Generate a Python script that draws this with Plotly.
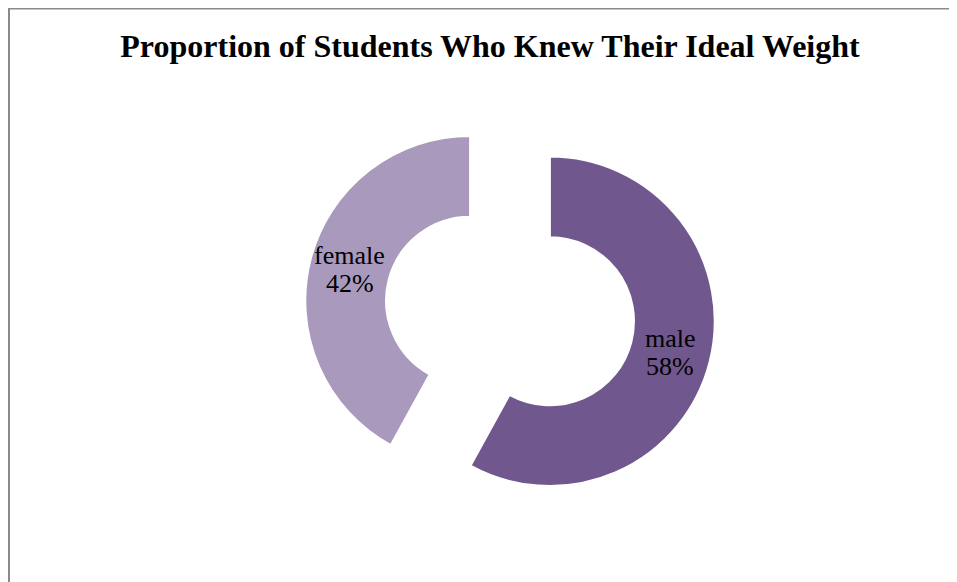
import math
import plotly.graph_objects as go

labels = ["male", "female"]
values = [58, 42]
colors = ["#70588E", "#A899BD"]
pulls = [0.25, 0.25]
title_text = "Proportion of Students Who Knew Their Ideal Weight"

# the page body adds an 8px margin, so the figure fills the rest of the 957x582 window
W, H = 949, 574
# pie domain in figure pixels (left, right, top, bottom)
dl, dr, dt, db = 296, 708, 97, 509
HOLE = 0.51

fig = go.Figure(go.Pie(
    labels=labels,
    values=values,
    sort=False,
    direction="clockwise",
    rotation=0,
    hole=HOLE,
    pull=pulls,
    marker=dict(colors=colors, line=dict(color="white", width=2)),
    textinfo="none",
    showlegend=False,
    hoverinfo="label+percent",
    domain=dict(x=[dl / W, dr / W], y=[1 - db / H, 1 - dt / H]),
))

# label placement: middle of the ring along each slice's bisector
cx, cy = (dl + dr) / 2, (dt + db) / 2
r = min(dr - dl, db - dt) / 2 / (1 + max(pulls))
total = sum(values)
annotations = []
start = 0.0
font = dict(family="Liberation Serif, Times New Roman, serif", size=26, color="black")
for lab, v, p in zip(labels, values, pulls):
    frac = v / total
    mid = (start + frac / 2) * 2 * math.pi
    start += frac
    dx, dy = math.sin(mid), -math.cos(mid)
    rad = r * (1 + HOLE) / 2 + p * r
    px, py = cx + dx * rad, cy + dy * rad
    pct = f"{round(frac * 100)}%"
    for txt, off in ((lab, -14), (pct, 14)):
        annotations.append(dict(
            text=txt, x=px / W, y=1 - (py + off) / H, xref="paper", yref="paper",
            xanchor="center", yanchor="middle", showarrow=False, font=font,
        ))

fig.update_layout(
    width=W, height=H,
    margin=dict(l=0, r=0, t=0, b=0),
    paper_bgcolor="white",
    plot_bgcolor="white",
    annotations=annotations,
    title=dict(
        text="<b>" + title_text + "</b>",
        x=482 / W, xanchor="center",
        y=1 - 38 / H, yanchor="middle", yref="container",
        font=dict(family="Liberation Serif, Times New Roman, serif", size=32, color="black"),
    ),
    shapes=[dict(
        type="rect", xref="paper", yref="paper",
        x0=1 / W, x1=1.02, y0=-0.02, y1=1 - 0.5 / H,
        line=dict(color="#8a8a8a", width=2),
        fillcolor="rgba(0,0,0,0)",
    )],
)

fig.write_html("out.html")
